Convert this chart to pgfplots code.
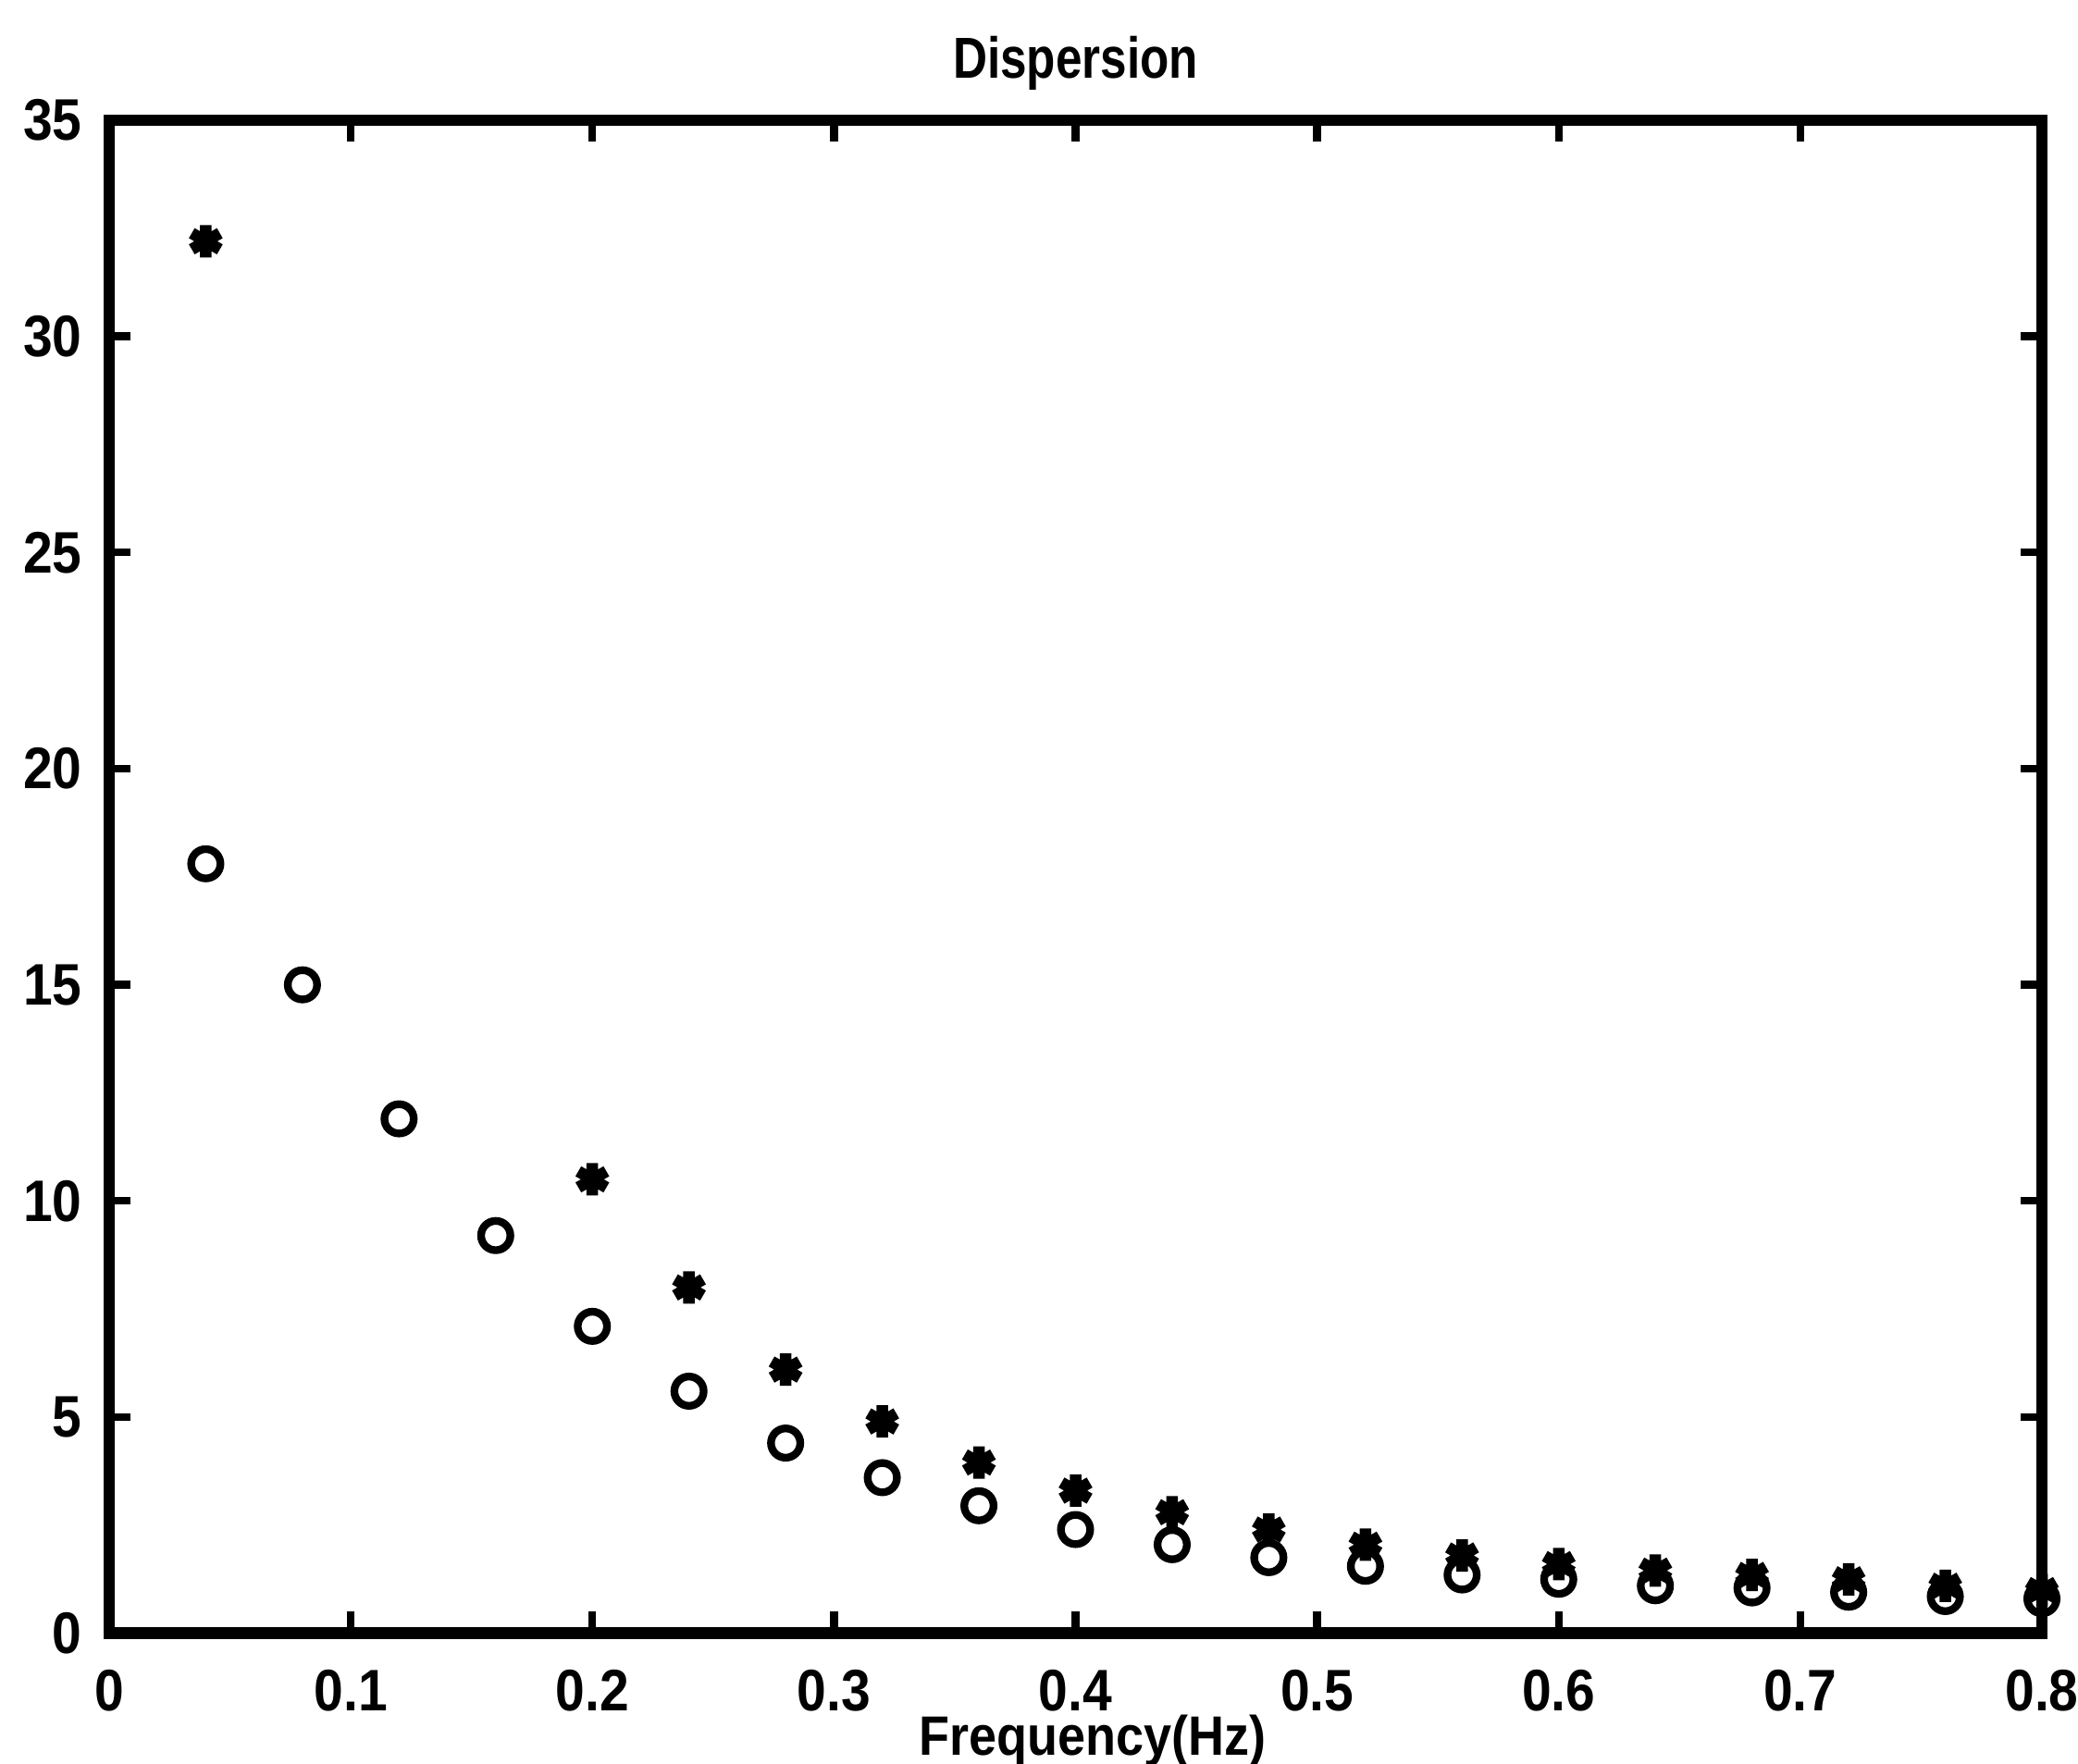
\documentclass[border=0pt]{standalone}
\usepackage{fontspec}
\setmainfont{Liberation Sans}
\newfontfamily\tickfamily[FakeStretch=0.9]{Liberation Sans}
\newfontfamily\xlabelfamily[FakeStretch=0.9]{Liberation Sans}
\newfontfamily\titlefamily[FakeStretch=0.82]{Liberation Sans}
\usepackage{pgfplots}
\pgfplotsset{compat=1.18}

\newcommand{\tickfont}{\tickfamily\bfseries\fontsize{7.6}{8}\selectfont}
\newcommand{\xlabelfont}{\xlabelfamily\bfseries\fontsize{7.2}{8}\selectfont}
\newcommand{\titlefont}{\titlefamily\bfseries\fontsize{7.5}{8}\selectfont}

\begin{document}
\begin{tikzpicture}
\begin{axis}[
  name=ax,
  scale only axis,
  width=250.7pt, height=196.3pt,
  xmin=0, xmax=0.8, ymin=0, ymax=35,
  xtick={0,0.1,0.2,0.3,0.4,0.5,0.6,0.7,0.8},
  ytick={0,5,10,15,20,25,30,35},
  xtick pos=both, ytick pos=both,
  tick align=inside,
  major tick length=2.8pt,
  axis line style={line width=1.5pt},
  every tick/.style={black, line width=1pt},
  /pgf/number format/assume math mode=true,
  /pgf/number format/fixed,
  tick label style={font=\tickfont},
  xticklabel style={yshift=-1.2pt},
  xlabel={Frequency(Hz)},
  xlabel style={font=\xlabelfont, at={(0.5,0)}, anchor=base, yshift=-15.8pt, xshift=2.2pt},
]
% Group velocity estimate (circles)
\addplot[only marks, mark=o, mark size=1.9pt, mark options={line width=1pt, black}] coordinates {
  (0.04,17.8) (0.08,15.0) (0.12,11.9) (0.16,9.2) (0.20,7.1)
  (0.24,5.6) (0.28,4.4) (0.32,3.6) (0.36,2.95) (0.40,2.4)
  (0.44,2.05) (0.48,1.75) (0.52,1.55) (0.56,1.35) (0.60,1.25)
  (0.64,1.1) (0.68,1.05) (0.72,0.95) (0.76,0.85) (0.80,0.8)
};
% Phase velocity estimate (asterisks)
\addplot[only marks, mark=asterisk, mark size=2.1pt, mark options={line width=1.5pt, black}] coordinates {
  (0.04,32.2) (0.20,10.5) (0.24,8.0) (0.28,6.1) (0.32,4.9)
  (0.36,3.95) (0.40,3.3) (0.44,2.8) (0.48,2.4) (0.52,2.05)
  (0.56,1.8) (0.60,1.6) (0.64,1.45) (0.68,1.35) (0.72,1.25)
  (0.76,1.1) (0.80,1.0)
};
\end{axis}
\node[font=\titlefont, anchor=base] at ([yshift=5.4pt]ax.north) {Dispersion};
\pgfresetboundingbox
\path[use as bounding box] ([xshift=-14.16pt,yshift=-16.92pt]ax.south west) rectangle ([xshift=4.68pt,yshift=15.6pt]ax.north east);
\end{tikzpicture}
\end{document}
